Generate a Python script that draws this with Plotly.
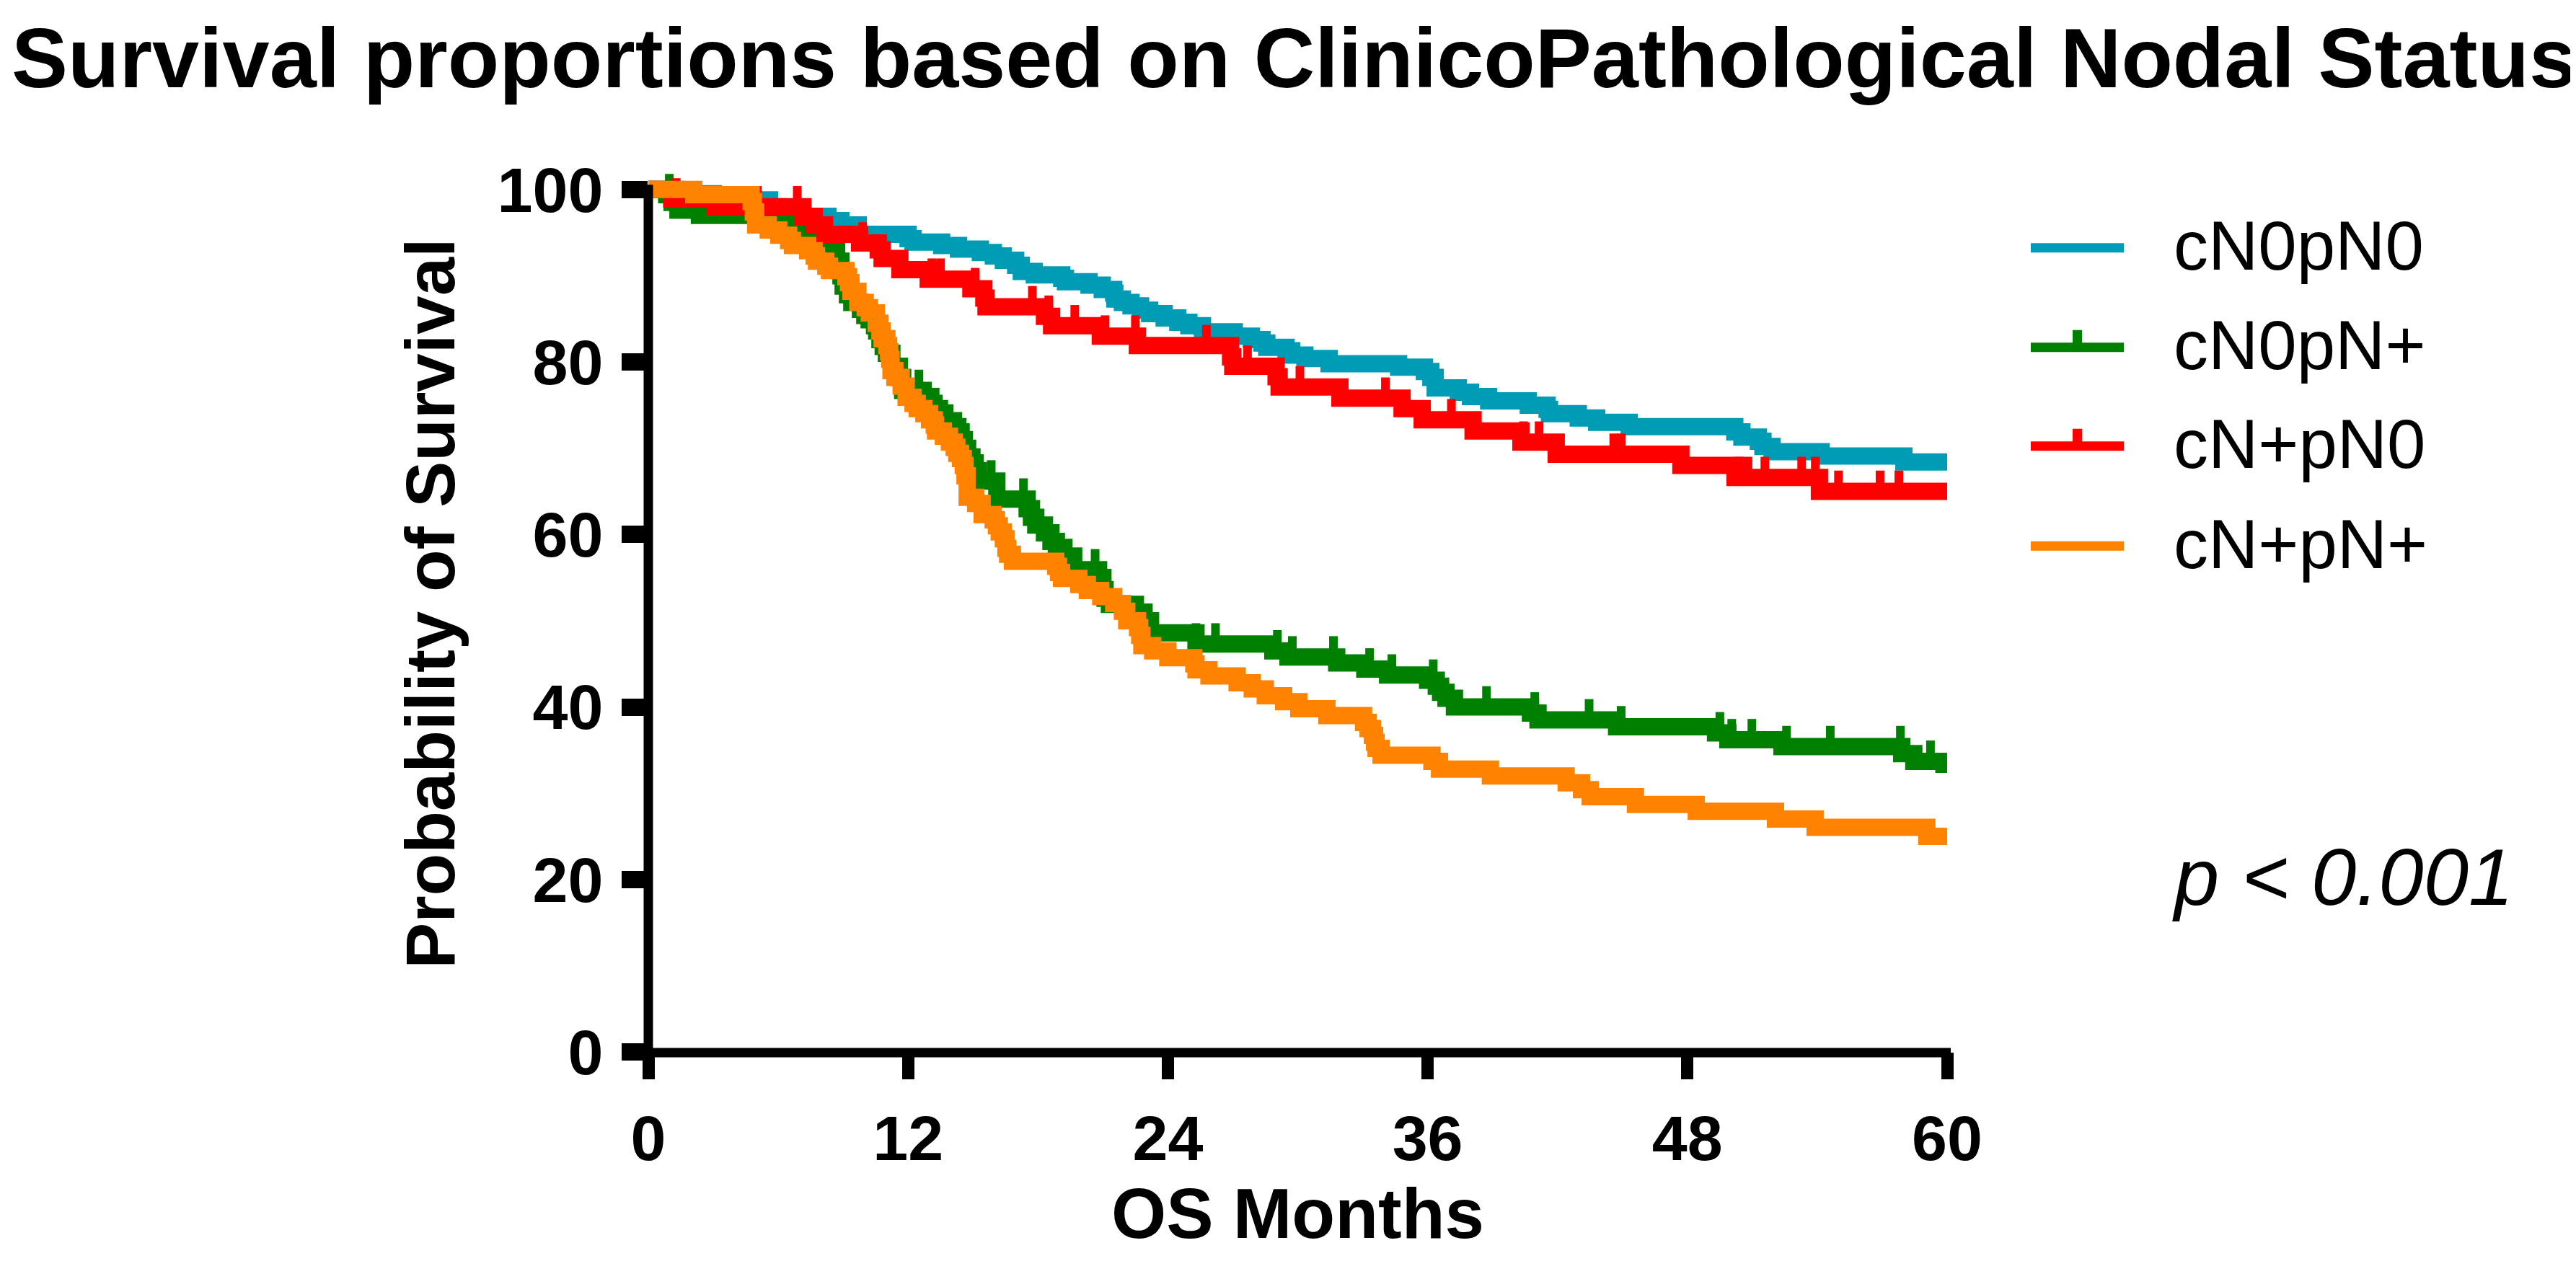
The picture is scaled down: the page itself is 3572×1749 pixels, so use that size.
import numpy as np
import plotly.graph_objects as go

# ---------------- data ----------------
groups = ["cN0pN0", "cN0pN+", "cN+pN0", "cN+pN+"]
colors = ["#009BB5", "#008000", "#FF0000", "#FF8200"]

cn0pn0_t = [0, 1.3, 3.0, 5.6, 6.0, 7.0, 8.3, 8.9, 9.7, 12.0, 12.23, 13.55, 14.33, 15.34, 15.94,
            16.4, 16.97, 17.23, 17.83, 19.1, 19.27, 20.36, 20.97, 21.5, 21.55, 21.9, 22.3, 22.74,
            23.16, 23.83, 24.46, 24.97, 25.6, 27.07, 27.86, 28.35, 28.57, 29.46, 29.72, 30.33,
            31.45, 34.66, 35.85, 36.15, 36.35, 37.42, 37.98, 38.82, 40.65, 41.52, 41.63, 42.96,
            43.81, 45.31, 50.19, 50.52, 51.28, 51.49, 51.91, 54.18, 58.0, 60]
cn0pn0_s = [100, 99.5, 98.8, 98.0, 97.2, 96.9, 96.4, 95.9, 94.8, 94.3, 93.9, 93.5, 93.1, 92.7, 92.3,
            91.8, 91.2, 90.5, 90.1, 89.7, 89.3, 88.9, 88.4, 88.0, 87.3, 86.9, 86.5, 86.0,
            85.6, 85.1, 84.6, 84.2, 83.5, 83.0, 82.6, 82.2, 81.7, 81.3, 80.8, 80.4,
            79.8, 79.4, 78.9, 78.2, 77.0, 76.5, 76.0, 75.5, 75.0, 74.5, 74.0, 73.5,
            73.0, 72.5, 71.9, 71.3, 70.8, 70.2, 69.6, 69.1, 68.4, 68.4]
cn0pn0_c = []

cn0pnp_t = [0, 0.85, 1.1, 1.37, 2.36, 6.0, 6.5, 7.0, 7.4, 7.8, 8.2, 8.7, 8.9, 9.0, 9.2, 9.4, 9.8,
            10.0, 10.2, 10.45, 10.55, 10.7, 10.85, 11.0, 11.25, 11.6, 11.75, 12.7, 13.0, 13.2,
            13.45, 13.7, 14.1, 14.3, 14.45, 14.6, 14.75, 14.95, 15.1, 15.25, 16.1, 17.5, 17.7,
            17.9, 18.3, 18.6, 18.85, 19.2, 19.65, 20.8, 21.0, 21.1, 21.3, 22.5, 22.9, 23.2, 25.3,
            28.85, 29.55, 31.8, 33.1, 34.15, 36.0, 36.4, 36.6, 36.85, 37.24, 40.75, 41.1, 44.73,
            49.3, 49.87, 52.37, 57.9, 58.46, 59.85, 60]
cn0pnp_s = [100, 99.4, 98.5, 97.6, 97.0, 96.4, 95.7, 95.2, 94.5, 93.9, 92.9, 91.7, 90.0, 88.8, 87.8,
            86.9, 86.1, 85.4, 84.9, 84.2, 83.6, 82.6, 81.8, 81.0, 79.5, 78.2, 76.7, 76.0, 75.2,
            74.6, 74.1, 73.2, 72.5, 71.9, 71.0, 70.0, 69.0, 68.3, 67.4, 66.2, 64.1, 63.0, 62.0,
            61.1, 60.2, 59.2, 58.5, 57.5, 55.9, 55.0, 53.6, 52.6, 51.9, 51.0, 50.0, 48.6, 47.3,
            46.5, 45.8, 45.1, 44.4, 43.7, 43.1, 42.4, 41.7, 41.0, 40.0, 39.3, 38.5, 37.7,
            37.0, 36.2, 35.4, 34.6, 33.7, 33.35, 33.35]
cn0pnp_c = [0.97, 8.53, 9.0, 12.5, 13.25, 15.84, 17.33, 20.64, 25.3, 26.2, 29.06, 29.75, 31.65,
            33.32, 34.35, 36.26, 38.72, 40.95, 43.46, 44.94, 49.5, 50.05, 50.98, 52.58, 54.6,
            57.84, 59.23]

cnppn0_t = [0, 1.08, 3.1, 7.14, 7.66, 8.14, 9.76, 10.62, 10.8, 11.62, 12.93, 14.9, 15.5, 15.6,
            18.3, 18.63, 20.88, 22.59, 26.9, 27.0, 29.0, 29.14, 31.95, 34.82, 35.75, 38.1, 40.31,
            41.94, 47.7, 50.2, 54.1, 60]
cnppn0_s = [100, 98.9, 98.0, 96.9, 95.9, 94.8, 93.8, 93.0, 92.0, 90.7, 89.6, 88.5, 87.4, 86.4,
            85.3, 84.2, 83.0, 81.9, 80.6, 79.5, 78.3, 77.1, 75.8, 74.6, 73.3, 72.0, 70.7,
            69.3, 68.0, 66.6, 65.0, 65.0]
cnppn0_c = [1.29, 3.28, 5.04, 6.88, 9.9, 10.83, 13.1, 13.5, 15.1, 17.74, 18.5, 19.7, 21.1, 22.5,
            25.78, 27.68, 30.1, 34.05, 37.1, 40.43, 41.15, 44.6, 44.95, 50.4, 50.8, 51.58,
            53.28, 53.91, 54.98, 56.9, 57.77]

cnppnp_t = [0, 2.1, 4.75, 4.85, 4.96, 5.54, 6.03, 6.48, 6.66, 7.36, 7.66, 7.77, 8.2, 8.37, 9.13,
            9.25, 9.36, 9.68, 10.02, 10.21, 10.53, 10.7, 10.8, 11.02, 11.1, 11.15, 11.21, 11.39,
            11.68, 11.91, 12.23, 12.42, 12.73, 12.99, 13.21, 13.27, 13.63, 13.91, 14.13, 14.25,
            14.42, 14.55, 14.63, 14.73, 15.12, 15.42, 15.93, 16.08, 16.21, 16.4, 16.52, 16.6,
            16.82, 18.82, 18.95, 19.09, 19.89, 20.28, 20.9, 21.5, 21.9, 22.1, 22.6, 22.7, 22.8,
            23.3, 24.0, 25.2, 25.3, 25.9, 27.2, 27.9, 28.5, 29.35, 30.05, 31.35, 33.04, 33.25,
            33.45, 33.55, 33.62, 33.85, 36.2, 36.55, 38.9, 42.4, 43.11, 43.51, 45.6, 48.41,
            52.07, 53.9, 59.06, 60]
cnppnp_s = [100, 99.4, 98.6, 97.4, 95.9, 95.3, 94.7, 94.1, 93.5, 92.9, 92.3, 91.7, 91.1, 90.6, 89.9,
            89.2, 88.2, 86.9, 86.3, 85.7, 84.5, 83.6, 82.7, 81.9, 81.2, 80.3, 79.0, 78.2,
            77.2, 75.9, 75.2, 74.6, 74.0, 73.3, 72.7, 72.0, 71.4, 70.7, 70.1, 69.4,
            68.8, 68.0, 66.8, 64.3, 63.6, 62.3, 61.7, 61.0, 60.3, 59.5, 58.4, 57.7,
            56.9, 56.3, 55.6, 54.9, 54.2, 53.5, 52.8, 52.0, 51.1, 50.0, 49.2, 48.3, 47.1,
            46.5, 45.7, 45.0, 44.3, 43.6, 42.8, 42.1, 41.3, 40.6, 39.8, 39.0, 38.2, 37.5,
            36.7, 35.9, 35.2, 34.4, 33.7, 32.8, 32.0, 31.2, 30.4, 29.6, 28.7, 27.9,
            27.0, 26.05, 25.0, 25.0]
cnppnp_c = []

series_t = [cn0pn0_t, cn0pnp_t, cnppn0_t, cnppnp_t]
series_s = [cn0pn0_s, cn0pnp_s, cnppn0_s, cnppnp_s]
series_c = [cn0pn0_c, cn0pnp_c, cnppn0_c, cnppnp_c]

x_ticks = [0, 12, 24, 36, 48, 60]
y_ticks = [0, 20, 40, 60, 80, 100]

# ---------------- styling ----------------
W, H = 3572, 1749
FONT = "Liberation Sans, Arial, sans-serif"
LW = 24          # curve stroke
TICK = 24        # censor tick length (px)
TICK_W = 12      # censor tick stroke

L, R, B = 891, 880, 298
px_per_pct = (1451 - 254.5) / 100.0
Y_TOP = 104
T = 1451 - Y_TOP * px_per_pct
plot_h = 1451 - T
plot_w = W - L - R


def px_x(X):
    return (X - L) / plot_w


def px_y(Y):
    return (1451 - Y) / plot_h


fig = go.Figure()

for name, col, t, s, c in zip(groups, colors, series_t, series_s, series_c):
    t = np.asarray(t, float)
    s = np.asarray(s, float)
    xs, ys, sz = list(t), list(s), [0] * len(t)
    for ct in c:
        idx = np.searchsorted(t, ct, side="right") - 1
        xs.append(ct)
        ys.append(s[idx])
        sz.append(TICK)
    order = np.argsort(np.asarray(xs), kind="stable")
    xs = np.asarray(xs)[order]
    ys = np.asarray(ys)[order]
    sz = np.asarray(sz)[order]
    has_c = len(c) > 0
    fig.add_trace(go.Scatter(
        x=xs, y=ys, name=name,
        mode="lines+markers" if has_c else "lines",
        line=dict(color=col, width=LW, shape="hv"),
        marker=dict(symbol="line-ns", size=sz, color=col, opacity=1, angle=180,
                    standoff=TICK / 2, line=dict(color=col, width=TICK_W)),
        showlegend=False,
        hoverinfo="skip",
    ))

# axis lines (paper-referenced so they are not clipped; y axis stops at 100)
fig.add_shape(type="line", xref="paper", yref="paper", x0=0, x1=0,
              y0=px_y(1458), y1=px_y(248), line=dict(color="black", width=13))
fig.add_shape(type="line", xref="paper", yref="paper", x0=px_x(885), x1=px_x(2697),
              y0=px_y(1452), y1=px_y(1452), line=dict(color="black", width=13))

# legend (drawn by hand to reproduce the long sample lines and censor ticks)
leg_line_y = [335.5, 473.5, 610.5, 749]
leg_text_y = [332, 470, 607.5, 746]
for name, col, c, ly, ty in zip(groups, colors, series_c, leg_line_y, leg_text_y):
    fig.add_shape(type="line", xref="paper", yref="paper",
                  x0=px_x(2808), x1=px_x(2937), y0=px_y(ly), y1=px_y(ly),
                  line=dict(color=col, width=13))
    if len(c) > 0:
        fig.add_shape(type="line", xref="paper", yref="paper",
                      x0=px_x(2872.5), x1=px_x(2872.5), y0=px_y(ly), y1=px_y(ly - 24),
                      line=dict(color=col, width=13))
    fig.add_annotation(text=name, xref="paper", yref="paper",
                       x=px_x(3004), y=px_y(ty), xanchor="left", yanchor="middle",
                       showarrow=False,
                       font=dict(family=FONT, size=96, color="black"))

fig.add_annotation(text="p < 0.001", xref="paper", yref="paper",
                   x=px_x(3240), y=px_y(1208),
                   xanchor="center", yanchor="middle", showarrow=False,
                   font=dict(family=FONT, size=112, color="black", style="italic"))

fig.update_layout(
    width=W, height=H,
    margin=dict(l=L, r=R, t=T, b=B, pad=0),
    paper_bgcolor="white", plot_bgcolor="white",
    showlegend=False,
    title=dict(text="Survival proportions based on ClinicoPathological Nodal Status",
               x=0.5, xref="container", xanchor="center",
               y=1 - 72 / H, yref="container", yanchor="middle",
               font=dict(family=FONT, size=117, color="black", weight="bold")),
    xaxis=dict(range=[0, 60], tickvals=x_ticks, ticks="outside", ticklen=37, tickwidth=17,
               tickcolor="black", showline=False, showgrid=False, zeroline=False,
               ticklabelstandoff=6,
               tickfont=dict(family=FONT, size=88, color="black", weight="bold"),
               title=dict(text="OS Months", standoff=18,
                          font=dict(family=FONT, size=98, color="black", weight="bold"))),
    yaxis=dict(range=[0, Y_TOP], tickvals=y_ticks, ticks="outside", ticklen=36, tickwidth=24,
               tickcolor="black", showline=False, showgrid=False, zeroline=False,
               ticklabelstandoff=8,
               tickfont=dict(family=FONT, size=88, color="black", weight="bold"),
               title=dict(text="Probability of Survival", standoff=26,
                          font=dict(family=FONT, size=96, color="black", weight="bold"))),
)

fig.write_html("out.html")
